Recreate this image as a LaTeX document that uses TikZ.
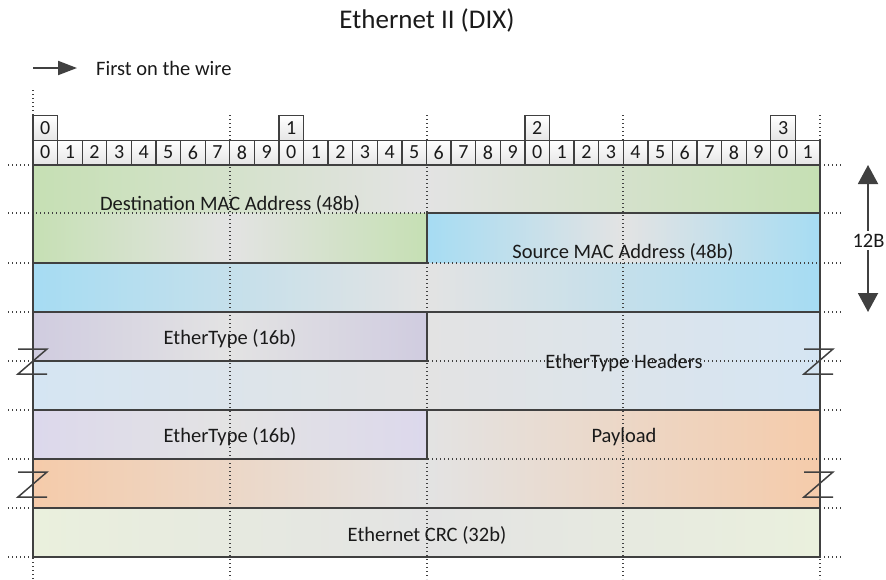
\documentclass[tikz,border=0pt]{standalone}
\usepackage{fontspec}
\setmainfont{Carlito}
\usetikzlibrary{arrows.meta}
\definecolor{ln}{HTML}{404040}
\definecolor{txt}{HTML}{1A1A1A}
\definecolor{mid}{HTML}{E3E3E3}
\definecolor{cgreen}{HTML}{C6E0B4}
\definecolor{cblue}{HTML}{A6DCF3}
\definecolor{clav}{HTML}{D0CCE0}
\definecolor{clavl}{HTML}{DCD8EC}
\definecolor{chead}{HTML}{D5E5F3}
\definecolor{cpeach}{HTML}{F5CBAA}
\definecolor{ccrc}{HTML}{EAF0DD}
\begin{document}
\begin{tikzpicture}[x=1pt,y=-1pt,
  fieldline/.style={draw=ln, line width=1.5pt, line join=miter},
  gridline/.style={draw=ln, line width=1.2pt, dash pattern=on 1.2pt off 2.8pt},
  bitcell/.style={draw=ln, line width=1.3pt, top color=white, bottom color=black!10,
    minimum width=24.59pt, minimum height=24.5pt, inner sep=0pt,
    font=\fontsize{20}{24}\selectfont, text=txt},
  lbl/.style={font=\fontsize{20.5}{24}\selectfont, text=txt, inner sep=0pt, anchor=base},
  zmark/.style={draw=ln, line width=1.5pt, line join=miter},
  wirearrow/.style={draw=ln, line width=2pt, -{Triangle[width=14pt,length=19pt]}},
  sizearrow/.style={draw=ln, line width=2pt, {Triangle[width=20pt,length=19pt]}-{Triangle[width=20pt,length=19pt]}}
]
\useasboundingbox (0,0) rectangle (886,579);

% title
\node[font=\fontsize{27}{32}\selectfont, text=txt, anchor=base, inner sep=0pt] (title) at (427,28) {Ethernet II (DIX)};

% first on the wire
\coordinate (fw0) at (33,68);
\coordinate (fw1) at (77,68);
\draw[wirearrow] (fw0) -- (fw1);
\node[lbl, anchor=base west] (fwt) at (96,75) {First on the wire};

% field fills
\shade[left color=cgreen, right color=cgreen, middle color=mid] (33,165) rectangle (820,213);
\shade[left color=cgreen, right color=cgreen, middle color=mid] (33,213) rectangle (427,263);
\shade[left color=cblue, right color=cblue, middle color=mid] (427,213) rectangle (820,263);
\shade[left color=cblue, right color=cblue, middle color=mid] (33,263) rectangle (820,312);
\shade[left color=chead, right color=chead, middle color=mid] (33,312) rectangle (820,410);
\shade[left color=clav, right color=clav, middle color=mid] (33,312) rectangle (427,361);
\shade[left color=cpeach, right color=cpeach, middle color=mid] (33,410) rectangle (820,508);
\shade[left color=clavl, right color=clavl, middle color=mid] (33,410) rectangle (427,459);
\shade[left color=ccrc, right color=ccrc, middle color=mid] (33,508) rectangle (820,557);

% grid
\foreach \yy in {165,213,263,312,361,410,459,508,557}
  \draw[gridline] (8,\yy) -- (843,\yy);
\draw[gridline] (33,90) -- (33,579);
\foreach \xx in {230,427,623,820}
  \draw[gridline] (\xx,115) -- (\xx,579);

% field outlines
\draw[fieldline] (33,165) -- (820,165) -- (820,213) -- (427,213) -- (427,263) -- (33,263) -- cycle;
\draw[fieldline] (427,213) -- (820,213) -- (820,312) -- (33,312) -- (33,263) -- (427,263) -- cycle;
\draw[fieldline] (33,312) rectangle (820,410);
\draw[fieldline] (33,312) rectangle (427,361);
\draw[fieldline] (33,410) rectangle (820,508);
\draw[fieldline] (33,410) rectangle (427,459);
\draw[fieldline] (33,508) rectangle (820,557);

% bit numbers
\foreach \i in {0,...,31}{
  \pgfmathsetmacro{\xc}{33+24.594*(\i+0.5)}
  \pgfmathtruncatemacro{\dd}{mod(\i,10)}
  \node[bitcell] (bit\i) at (\xc,152.5) {\dd};
}
\foreach \t/\i in {0/0,1/10,2/20,3/30}{
  \pgfmathsetmacro{\xc}{33+24.594*(\i+0.5)}
  \node[bitcell] (ten\t) at (\xc,128) {\t};
}

% labels
\node[lbl] (dst) at (230,210) {Destination MAC Address (48b)};
\node[lbl] (src) at (623,258) {Source MAC Address (48b)};
\node[lbl] (et1) at (230,344) {EtherType (16b)};
\node[lbl] (eth) at (624,368) {EtherType Headers};
\node[lbl] (et2) at (230,442) {EtherType (16b)};
\node[lbl] (pay) at (624,442) {Payload};
\node[lbl] (crc) at (427,541) {Ethernet CRC (32b)};

% 12B size arrow
\coordinate (szt) at (868,165);
\coordinate (szb) at (868,312);
\draw[sizearrow] (szt) -- (szb);
\node[lbl, fill=white, inner sep=3pt] (sz) at (868.5,247) {12B};

% break marks
\foreach \zx in {18,804}{
  \foreach \zy in {349,472}{
    \draw[zmark] (\zx,\zy) -- (\zx+29,\zy) -- (\zx,\zy+25) -- (\zx+29,\zy+25);
  }
}
\end{tikzpicture}
\end{document}
